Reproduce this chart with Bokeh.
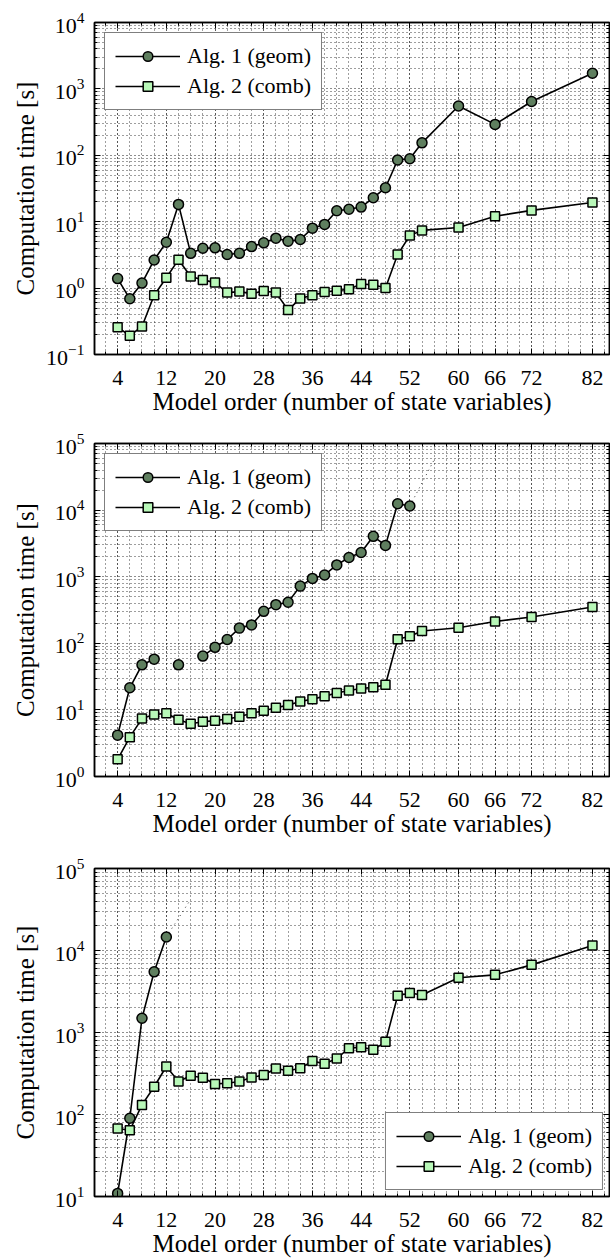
import math
from bokeh.plotting import figure
from bokeh.models import (Range1d, FixedTicker, LinearAxis, LogAxis, Legend,
                          LegendItem, CustomJSTickFormatter, AllLabels)
from bokeh.layouts import column
from bokeh.embed import file_html
from bokeh.resources import INLINE

NAN = float("nan")

# ---------------- data ----------------
model_order = [4, 6, 8, 10, 12, 14, 16, 18, 20, 22, 24, 26, 28, 30, 32, 34, 36,
               38, 40, 42, 44, 46, 48, 50, 52, 54, 60, 66, 72, 82]
x_major_ticks = [4, 12, 20, 28, 36, 44, 52, 60, 66, 72, 82]
x_minor_ticks = list(range(2, 86, 2))

# panel 1
p1_geom = [1.39, 0.69, 1.19, 2.65, 4.9, 18.2, 3.34, 3.98, 4.04, 3.2, 3.34, 4.22,
           4.8, 5.65, 5.09, 5.4, 8.0, 9.1, 14.6, 15.4, 16.6, 22.9, 32.5, 85,
           88.7, 154, 553, 292, 646, 1723]
p1_comb = [0.257, 0.192, 0.264, 0.78, 1.43, 2.68, 1.50, 1.33, 1.21, 0.855,
           0.886, 0.825, 0.906, 0.855, 0.467, 0.70, 0.78, 0.875, 0.916, 0.96,
           1.15, 1.12, 1.0, 3.2, 6.2, 7.4, 8.2, 12.1, 14.8, 19.5]

# panel 2
p2_geom = [4.18, 21.5, 47.5, 57.8, NAN, 47.5, NAN, 64.3, 87, 114, 169, 189,
           302, 380, 414, 722, 942, 1062, 1503, 1941, 2311, 4036, 2951, 12470,
           11510, NAN, NAN, NAN, NAN, NAN]
p2_comb = [1.81, 3.9, 7.4, 8.5, 8.9, 7.1, 6.2, 6.65, 6.9, 7.3, 7.9, 8.9, 9.7,
           10.8, 11.8, 13.4, 14.5, 16.1, 17.9, 19.6, 21.0, 21.8, 23.9, 115, 128,
           153, 171, 213, 248, 351]
p2_timeout_x = [52, 56]
p2_timeout_y = [11510, 57000]

# panel 3
p3_geom_x = [4, 6, 8, 10, 12]
p3_geom = [10.9, 90, 1493, 5495, 14630]
p3_comb = [67.4, 64.3, 131, 218, 385, 253, 297, 281, 236, 240, 253, 283, 303,
           364, 341, 367, 448, 415, 482, 644, 663, 615, 769, 2811, 3027, 2863,
           4645, 5050, 6680, 11510]
p3_timeout_x = [12, 16]
p3_timeout_y = [14630, 42000]

labels = ["Alg. 1 (geom)", "Alg. 2 (comb)"]

FONT = "Liberation Serif"
GEOM_FILL = "#5f7f5f"
COMB_FILL = "#b8f8b8"
GRID_DASH = "1 3"


def make_panel(ylo, yhi, geom_x, geom_y, comb_y, tout_x, tout_y, legend_loc,
               height, top, bottom, ylab_standoff, xtick_standoff,
               xlab_standoff):
    p = figure(width=610, height=height, x_range=Range1d(0.2, 84.8),
               y_range=Range1d(ylo, yhi), y_axis_type="log",
               output_backend="svg", toolbar_location=None,
               min_border_left=94, min_border_right=1,
               min_border_top=top, min_border_bottom=bottom)
    p.outline_line_color = "black"
    p.outline_line_width = 1.5
    p.background_fill_color = "white"

    k0, k1 = round(math.log10(ylo)), round(math.log10(yhi))
    majors = [10.0 ** k for k in range(k0, k1 + 1)]
    minors = [m * 10.0 ** k for k in range(k0, k1) for m in range(2, 10)]
    yticker = FixedTicker(ticks=majors, minor_ticks=minors)
    xticker = FixedTicker(ticks=x_major_ticks, minor_ticks=x_minor_ticks)

    bx = p.xaxis[0]
    ly = p.yaxis[0]
    bx.ticker = xticker
    ly.ticker = yticker
    p.xgrid.ticker = xticker
    p.ygrid.ticker = yticker

    for g in (p.xgrid, p.ygrid):
        g.grid_line_color = "black"
        g.grid_line_dash = GRID_DASH
        g.grid_line_width = 0.9
        g.grid_line_alpha = 1.0
        g.minor_grid_line_color = "black"
        g.minor_grid_line_dash = GRID_DASH
        g.minor_grid_line_width = 0.9
        g.minor_grid_line_alpha = 0.85

    # mirror axes (ticks only)
    blank = CustomJSTickFormatter(code="return ''")
    top_ax = LinearAxis(ticker=xticker, formatter=blank)
    right_ax = LogAxis(ticker=yticker, formatter=blank)
    p.add_layout(top_ax, "above")
    p.add_layout(right_ax, "right")

    for ax in (bx, ly, top_ax, right_ax):
        ax.axis_line_color = "black"
        ax.axis_line_width = 1.5
        ax.major_tick_line_color = "black"
        ax.minor_tick_line_color = "black"
        ax.major_tick_in = 6
        ax.major_tick_out = 0
        ax.minor_tick_in = 3
        ax.minor_tick_out = 0
        ax.major_label_text_font = FONT
        ax.major_label_text_font_size = "22px"
        ax.major_label_text_color = "black"
        ax.axis_label_text_font = FONT
        ax.axis_label_text_font_size = "25px"
        ax.axis_label_text_font_style = "normal"
        ax.axis_label_text_color = "black"
        ax.major_label_policy = AllLabels()
    for ax in (top_ax, right_ax):
        ax.major_label_standoff = 0
        ax.axis_label_standoff = 0
        ax.major_label_text_font_size = "0px"

    bx.axis_label = "Model order (number of state variables)"
    bx.major_label_standoff = xtick_standoff
    bx.axis_label_standoff = xlab_standoff
    ly.axis_label = "Computation time [s]"
    ly.major_label_standoff = 10
    ly.axis_label_standoff = ylab_standoff

    if tout_x is not None:
        p.line(tout_x, tout_y, line_color="black", line_width=1,
               line_dash="1 4", line_alpha=0.8)
    l1 = p.line(geom_x, geom_y, line_color="black", line_width=1.6)
    s1 = p.scatter(geom_x, geom_y, marker="circle", size=10,
                   fill_color=GEOM_FILL, line_color="black", line_width=1.5)
    l2 = p.line(model_order, comb_y, line_color="black", line_width=1.6)
    s2 = p.scatter(model_order, comb_y, marker="square", size=9,
                   fill_color=COMB_FILL, line_color="black", line_width=1.5)
    items = [LegendItem(label=labels[0], renderers=[l1, s1]),
             LegendItem(label=labels[1], renderers=[l2, s2])]

    leg = Legend(items=items, location=legend_loc)
    leg.label_text_font = FONT
    leg.label_text_font_size = "22px"
    leg.label_text_color = "black"
    leg.glyph_width = 65
    leg.glyph_height = 24
    leg.label_height = 24
    leg.label_standoff = 7
    leg.spacing = 4
    leg.padding = 10
    leg.margin = 10 if legend_loc == "top_left" else 6
    leg.border_line_color = "black"
    leg.border_line_width = 1.3
    leg.background_fill_color = "white"
    leg.background_fill_alpha = 1.0
    p.add_layout(leg)
    return p


f1 = make_panel(0.1, 1e4, model_order, p1_geom, p1_comb, None, None,
                "top_left", 417, 22, 60, 4, 16, 0)
f2 = make_panel(1, 1e5, model_order, p2_geom, p2_comb, p2_timeout_x,
                p2_timeout_y, "top_left", 422, 26, 60, 13, 16, 0)
f3 = make_panel(10, 1e5, p3_geom_x, p3_geom, p3_comb, p3_timeout_x,
                p3_timeout_y, "bottom_right", 420, 29, 56, 13, 16, 0)

layout = column(f1, f2, f3)
open("out.html", "w").write(file_html(layout, INLINE))
